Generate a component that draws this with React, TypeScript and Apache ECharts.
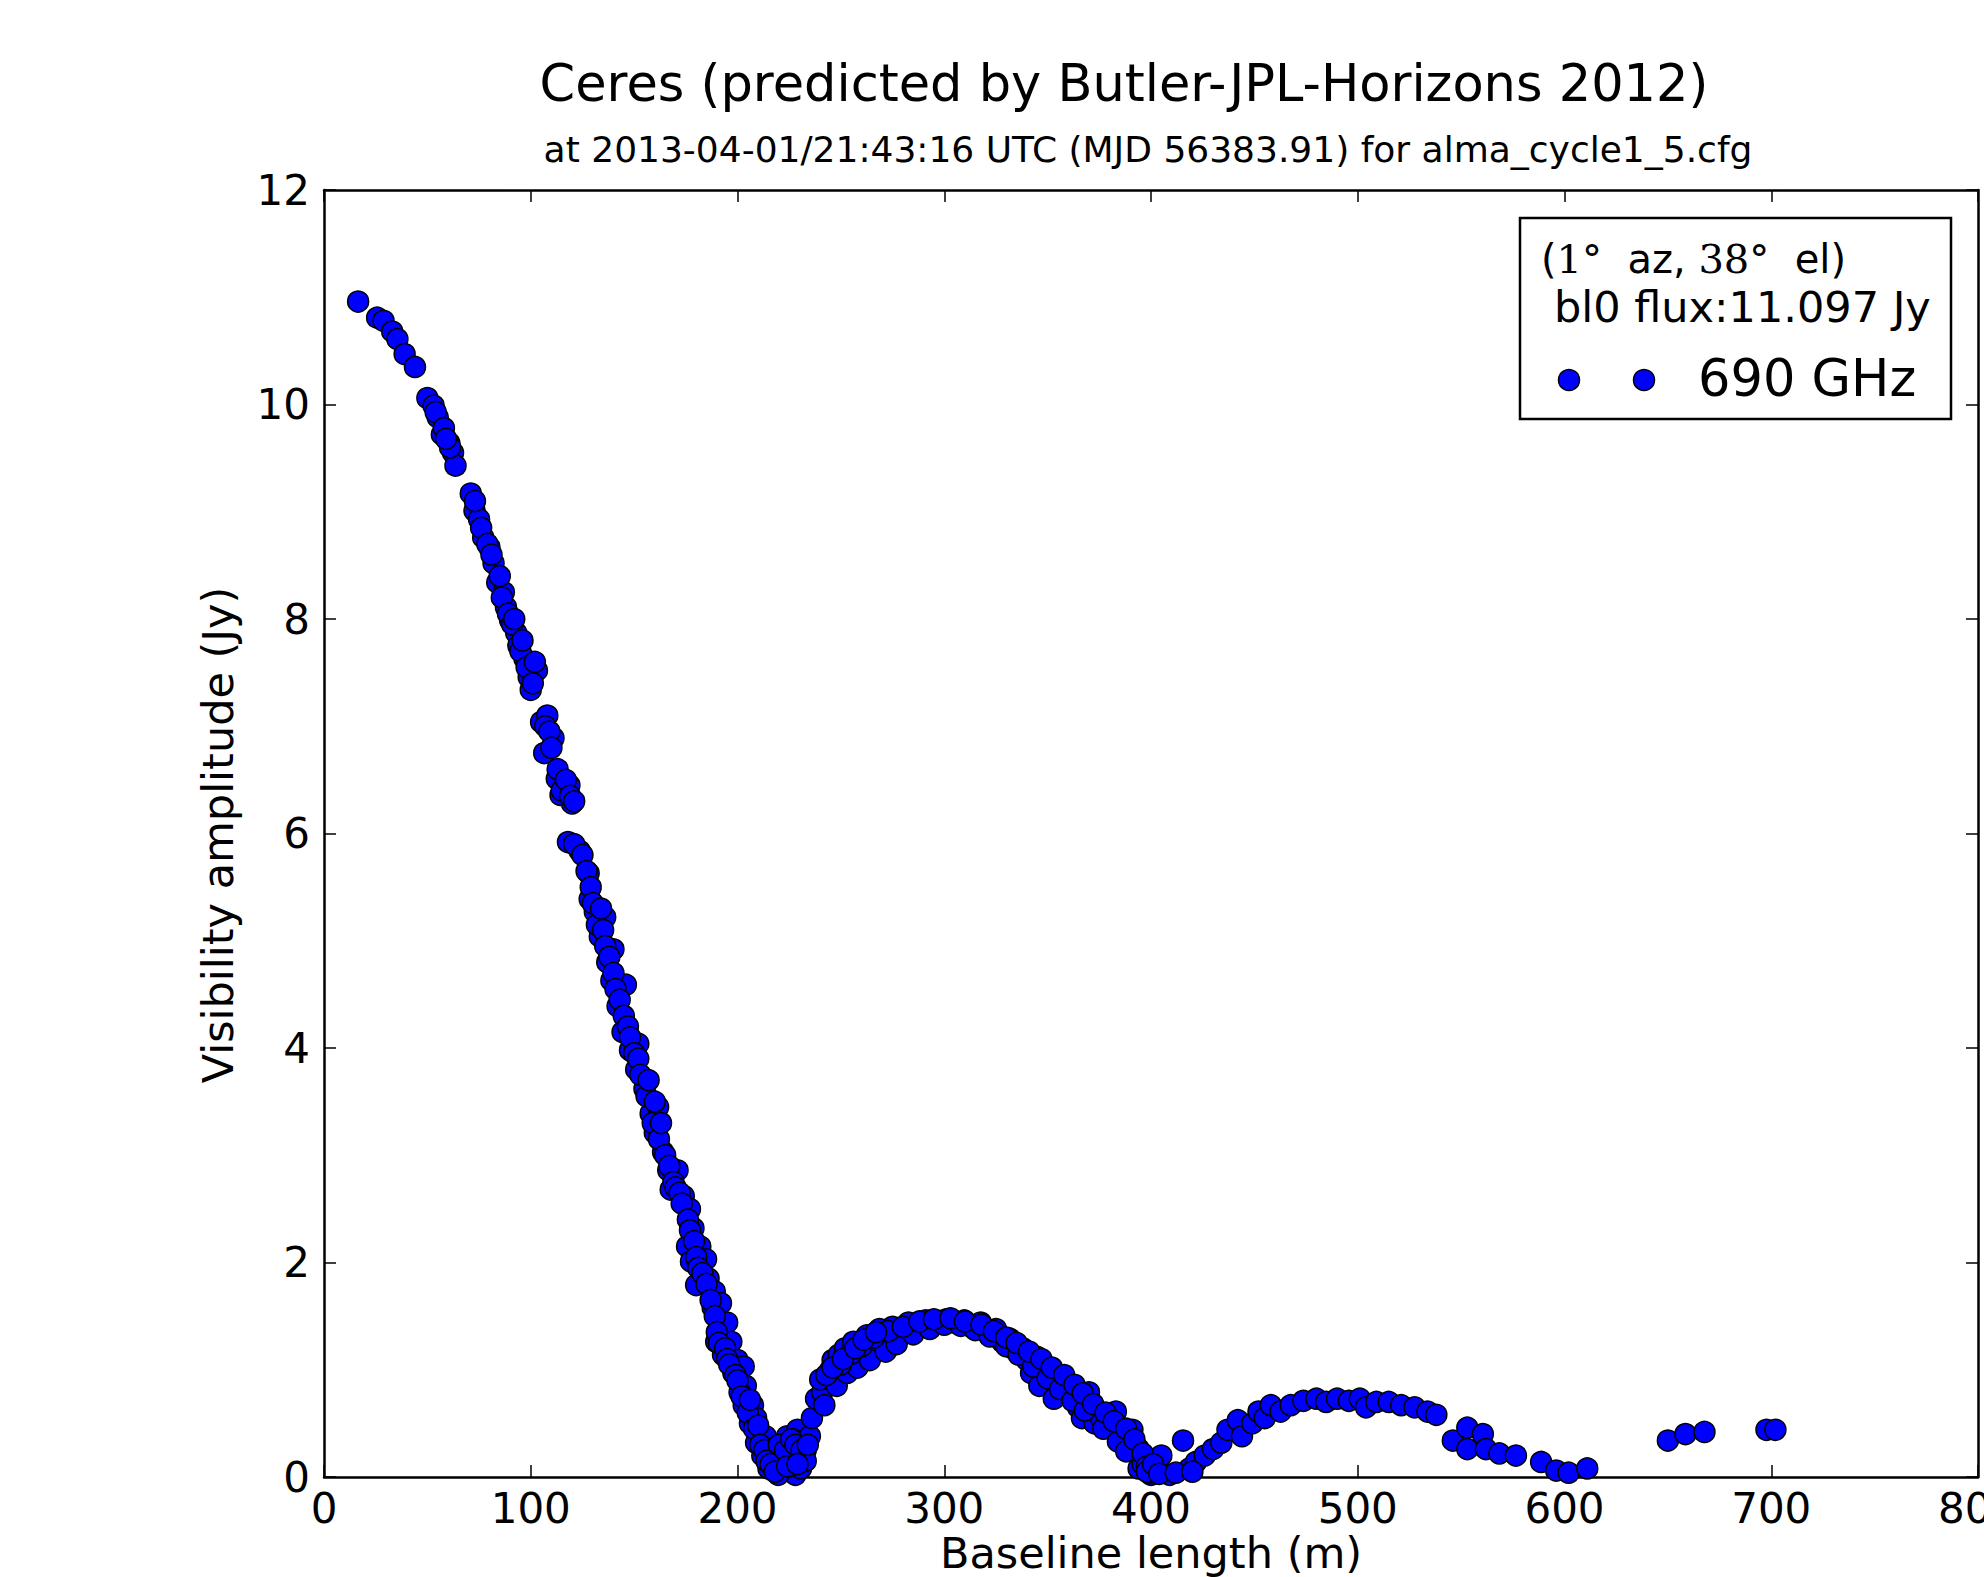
import React, { useEffect, useRef } from "react";
import * as echarts from "echarts";

const FONT = "DejaVu Sans";

const titleText = "Ceres (predicted by Butler-JPL-Horizons 2012)";
const subtitleText = "at 2013-04-01/21:43:16 UTC (MJD 56383.91) for alma_cycle1_5.cfg";
const xAxisName = "Baseline length (m)";
const yAxisName = "Visibility amplitude (Jy)";
const seriesName = "690 GHz";
const fluxLine = "bl0 flux:11.097 Jy";

const xTicks = { min: 0, max: 800, interval: 100 };
const yTicks = { min: 0, max: 12, interval: 2 };

// Baseline length (m)
const baselines = [
  16.5, 25.7, 28.8, 33, 35.5, 39, 44, 50, 53, 55, 57, 60.6, 62.4, 63.6, 71, 72.8, 75, 77, 80, 82,
  83.8, 87, 88, 90, 93, 94, 97, 99, 100, 103, 105, 108, 106.5, 111, 112.6, 114.4, 118.7, 120, 118, 123.6,
  128, 128.5, 131, 133.4, 136, 137, 140, 139, 142, 146, 144.4, 148, 152, 151, 155, 158, 161.6, 160, 164, 166.5,
  171, 167.7, 174, 177, 178.7, 175.6, 182, 177.5, 184.8, 180, 186, 189, 188, 192, 191, 195, 189.7, 193, 197, 200,
  203, 198, 204, 201, 207.5, 203, 209, 206, 210.5, 213.6, 209, 212, 215, 216.6, 219.7, 221.5, 224, 226, 228, 230,
  232, 229, 230.7, 219.7, 222, 225, 233, 227, 217, 235, 236, 238, 241, 240, 244, 247, 246, 249, 252, 254.6,
  256, 259, 262.5, 265.6, 268.7, 271.7, 275, 279, 282.7, 287, 291, 296, 301, 305, 309.7, 313, 317.6, 320.7, 325, 328,
  331.7, 333, 338, 340, 342, 345, 348, 346, 353, 351, 357, 360, 364.7, 370, 366.6, 372.7, 375.8, 380.7, 383, 386,
  390, 391, 394, 397, 394, 400, 403, 405, 415.5, 242, 248, 253, 258, 264, 271.7, 277, 285, 293, 300, 308,
  315, 322, 330, 336, 343, 350, 356, 362, 368, 377, 384, 388, 396, 399, 402, 409, 418.6, 421.7, 426, 430,
  434, 437, 442, 444, 449, 452, 455, 458, 462.7, 467.6, 473.7, 480, 484.7, 490, 495.7, 501, 504, 509, 515, 521,
  527.5, 533.7, 538, 546, 553, 553, 560.5, 562, 568.5, 576.5, 588.7, 596, 602, 611, 650, 658.5, 667.7, 697.7, 702,
  54, 58, 61, 59, 73, 76, 79, 81, 85, 86, 89, 91, 92, 95, 96, 98, 101, 102,
  107, 109, 110, 113, 115, 117, 119, 121,
  121, 125, 127, 129, 130, 132, 134, 135, 136, 138, 140, 141, 143, 145, 147, 148, 150, 152, 153, 156,
  157, 159, 160, 162, 163, 165, 167, 169, 170, 172, 173, 176, 177, 179, 180, 181, 183, 185, 187, 189,
  190, 191, 194, 195, 196, 199, 200, 202, 205, 206, 208, 210, 211, 213, 214, 216, 218,
  220, 223, 226, 228, 231, 233, 234, 224, 229,
  245, 250, 255, 260, 266, 273, 280, 288, 295, 303, 310, 318, 324, 330, 335, 341, 347, 352, 358, 363,
  367, 372, 378, 382, 388, 392, 396, 398, 243, 246, 251, 257, 261, 267,
  398, 401, 404, 412, 420,
];

// Visibility amplitude (Jy)
const amplitudes = [
  10.96, 10.81, 10.78, 10.68, 10.61, 10.47, 10.35, 10.06, 9.99, 9.88, 9.72, 9.64, 9.55, 9.43, 9.17, 9.01, 8.93, 8.76, 8.67, 8.52,
  8.34, 8.25, 8.11, 7.99, 7.87, 7.75, 7.63, 7.46, 7.34, 7.52, 7.04, 7.1, 6.75, 6.89, 6.51, 6.36, 6.45, 6.28, 5.92, 5.84,
  5.63, 5.39, 5.27, 5.04, 5.22, 4.8, 4.92, 4.63, 4.39, 4.59, 4.15, 3.98, 4.04, 3.8, 3.62, 3.39, 3.45, 3.21, 3.03, 2.86,
  2.86, 2.68, 2.62, 2.5, 2.32, 2.15, 2.15, 2.01, 2.03, 1.79, 1.85, 1.73, 1.58, 1.62, 1.44, 1.44, 1.26, 1.14, 1.26, 1.09,
  1.03, 0.97, 0.85, 0.79, 0.67, 0.67, 0.55, 0.5, 0.38, 0.38, 0.32, 0.2, 0.08, 0.26, 0.2, 0.08, 0.38, 0.2, 0.02, 0.14,
  0.44, 0.44, 0.08, 0.02, 0.3, 0.1, 0.25, 0.35, 0.12, 0.38, 0.55, 0.73, 0.79, 0.91, 0.97, 0.91, 1.09, 1.14, 1.2, 1.09,
  1.26, 1.14, 1.32, 1.2, 1.38, 1.29, 1.4, 1.36, 1.44, 1.4, 1.46, 1.44, 1.47, 1.44, 1.46, 1.4, 1.44, 1.36, 1.38, 1.26,
  1.29, 1.2, 1.2, 1.09, 0.97, 1.12, 1.03, 0.85, 0.73, 0.97, 0.91, 0.79, 0.65, 0.79, 0.55, 0.5, 0.55, 0.5, 0.61, 0.38,
  0.32, 0.44, 0.26, 0.14, 0.08, 0.02, 0.08, 0.2, 0.34, 0.67, 0.85, 0.97, 1.02, 1.09, 1.17, 1.24, 1.33, 1.38, 1.42, 1.41,
  1.37, 1.31, 1.22, 1.14, 1.03, 0.92, 0.82, 0.71, 0.62, 0.45, 0.33, 0.24, 0.12, 0.04, 0.05, 0.02, 0.08, 0.14, 0.2, 0.26,
  0.32, 0.44, 0.53, 0.38, 0.5, 0.61, 0.55, 0.67, 0.61, 0.67, 0.71, 0.73, 0.7, 0.73, 0.71, 0.73, 0.65, 0.7, 0.7, 0.67,
  0.65, 0.61, 0.58, 0.34, 0.46, 0.26, 0.4, 0.26, 0.22, 0.2, 0.14, 0.06, 0.04, 0.08, 0.34, 0.4, 0.42, 0.44, 0.44,
  9.93, 9.78, 9.6, 9.68, 9.1, 8.85, 8.7, 8.6, 8.4, 8.2, 8.05, 7.95, 8.0, 7.7, 7.8, 7.55, 7.4, 7.6,
  7.0, 6.95, 6.8, 6.6, 6.4, 6.5, 6.35, 6.3,
  5.9, 5.8, 5.65, 5.5, 5.35, 5.15, 5.3, 5.1, 4.95, 4.85, 4.7, 4.55, 4.45, 4.3, 4.2, 4.1, 3.95, 3.9, 3.75, 3.55,
  3.7, 3.3, 3.5, 3.15, 3.3, 3.0, 2.9, 2.75, 2.7, 2.65, 2.55, 2.4, 2.3, 2.2, 2.05, 1.95, 1.9, 1.8, 1.65, 1.5,
  1.35, 1.25, 1.2, 1.1, 1.05, 0.95, 0.9, 0.75, 0.6, 0.72, 0.45, 0.48, 0.3, 0.25, 0.15, 0.12, 0.05,
  0.3, 0.25, 0.35, 0.3, 0.25, 0.15, 0.3, 0.1, 0.12,
  1.0, 1.05, 1.15, 1.22, 1.3, 1.36, 1.4, 1.45, 1.47, 1.48, 1.45, 1.42, 1.36, 1.3, 1.25, 1.17, 1.1, 1.02, 0.95, 0.86,
  0.78, 0.68, 0.6, 0.52, 0.45, 0.35, 0.22, 0.1, 0.95, 1.02, 1.1, 1.2, 1.28, 1.35,
  0.05, 0.12, 0.03, 0.04, 0.05,
];

const GRID = { left: 324, top: 190, width: 1654, height: 1287 };

export default function App() {
  const ref = useRef<HTMLDivElement>(null);

  useEffect(() => {
    if (!ref.current) return;
    const chart = echarts.init(ref.current, null, { renderer: "svg" });
    const points = baselines.map((b, i) => [b, amplitudes[i]]);

    const axisCommon = {
      axisLine: { show: true, onZero: false, lineStyle: { color: "#000", width: 2.5 } },
      axisTick: { show: true, inside: true, length: 12, lineStyle: { color: "#000", width: 1.5 } },
      splitLine: { show: false },
    };

    const lx = 1520, ly = 218, lw = 431, lh = 201;

    chart.setOption({
      animation: false,
      backgroundColor: "#ffffff",
      grid: { ...GRID, containLabel: false, outerBoundsMode: "none" },
      xAxis: [
        {
          type: "value",
          position: "bottom",
          ...xTicks,
          ...axisCommon,
          axisLabel: {
            show: true,
            color: "#000",
            fontFamily: FONT,
            fontSize: 42,
            lineHeight: 38,
            margin: 12,
          },
        },
        {
          type: "value",
          position: "top",
          ...xTicks,
          ...axisCommon,
          axisLabel: { show: false },
        },
      ],
      yAxis: [
        {
          type: "value",
          position: "left",
          ...yTicks,
          ...axisCommon,
          axisLabel: { show: true, color: "#000", fontFamily: FONT, fontSize: 42, margin: 14 },
        },
        {
          type: "value",
          position: "right",
          ...yTicks,
          ...axisCommon,
          axisLabel: { show: false },
        },
      ],
      series: [
        {
          name: seriesName,
          type: "scatter",
          data: points,
          symbol: "circle",
          symbolSize: 21,
          itemStyle: { color: "#0000ff", borderColor: "#000", borderWidth: 1.5, opacity: 1 },
          clip: false,
        },
      ],
      graphic: [
        {
          type: "text",
          x: 1124,
          y: 83,
          style: {
            text: titleText,
            font: `51px "${FONT}"`,
            fill: "#000",
            align: "center",
            verticalAlign: "middle",
          },
        },
        {
          type: "text",
          x: 1148,
          y: 149,
          style: {
            text: subtitleText,
            font: `36px "${FONT}"`,
            fill: "#000",
            align: "center",
            verticalAlign: "middle",
          },
        },
        {
          type: "text",
          x: 1151,
          y: 1553,
          style: {
            text: xAxisName,
            font: `43px "${FONT}"`,
            lineHeight: 42,
            fill: "#000",
            align: "center",
            verticalAlign: "middle",
          },
        },
        {
          type: "text",
          x: 218,
          y: 835,
          rotation: Math.PI / 2,
          style: {
            text: yAxisName,
            font: `43px "${FONT}"`,
            fill: "#000",
            align: "center",
            verticalAlign: "middle",
          },
        },
        {
          type: "rect",
          shape: { x: lx, y: ly, width: lw, height: lh },
          style: { fill: "#fff", stroke: "#000", lineWidth: 2.5 },
          z: 10,
        },
        {
          type: "text",
          x: 1541,
          y: 259,
          z: 11,
          style: {
            text: "{p|(}{s|1°}{p|  az, }{s|38°}{p|  el)}",
            verticalAlign: "middle",
            rich: {
              p: { font: `40px "${FONT}"`, fill: "#000" },
              s: { font: `40px "DejaVu Serif"`, fill: "#000" },
            },
          },
        },
        {
          type: "text",
          x: 1554,
          y: 307,
          z: 11,
          style: {
            text: fluxLine,
            font: `43px "${FONT}"`,
            fill: "#000",
            verticalAlign: "middle",
          },
        },
        {
          type: "circle",
          shape: { cx: 1569, cy: 380, r: 10.5 },
          style: { fill: "#0000ff", stroke: "#000", lineWidth: 1.5 },
          z: 11,
        },
        {
          type: "circle",
          shape: { cx: 1644, cy: 380, r: 10.5 },
          style: { fill: "#0000ff", stroke: "#000", lineWidth: 1.5 },
          z: 11,
        },
        {
          type: "text",
          x: 1698,
          y: 378,
          z: 11,
          style: {
            text: seriesName,
            font: `51px "${FONT}"`,
            fill: "#000",
            verticalAlign: "middle",
          },
        },
      ],
    });

    return () => chart.dispose();
  }, []);

  return (
    <div
      ref={ref}
      style={{ position: "absolute", left: 0, top: 0, width: 1984, height: 1577, background: "#fff" }}
    />
  );
}
